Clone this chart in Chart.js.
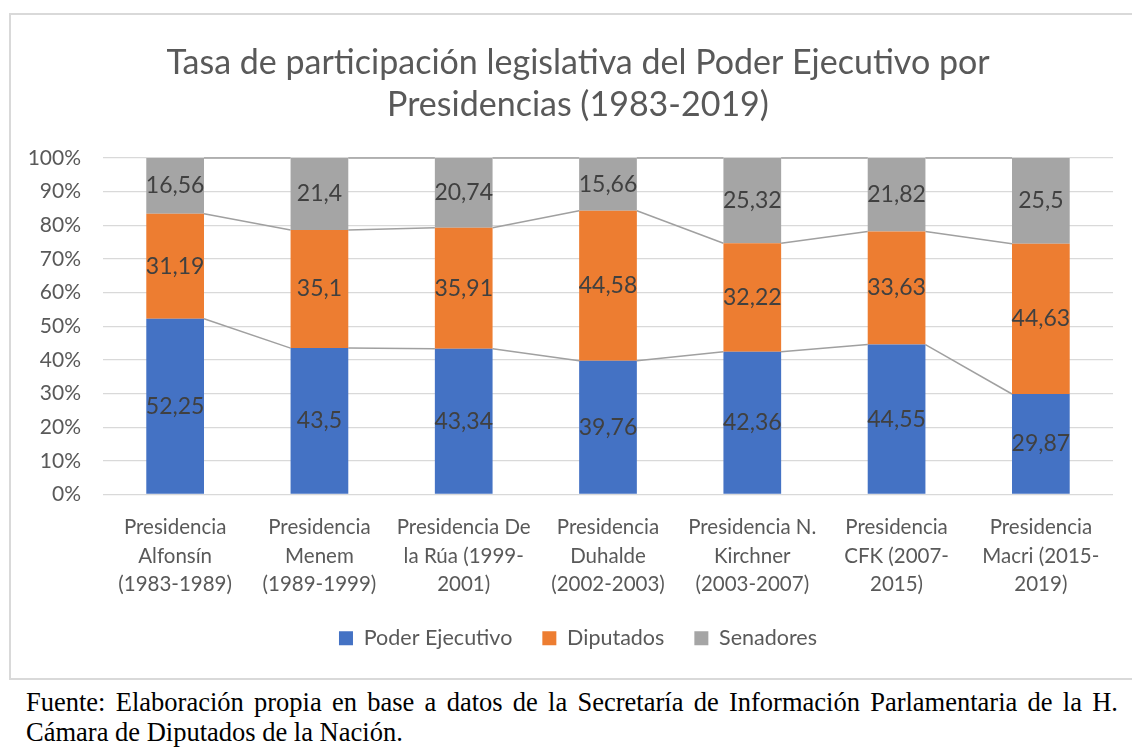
<!DOCTYPE html>
<html>
<head>
<meta charset="utf-8">
<script src="https://cdn.jsdelivr.net/npm/chart.js@4/dist/chart.umd.min.js"></script>
<style>
  body { margin: 0; background: #fff; width: 1132px; height: 747px; overflow: hidden; position: relative; }
  #box { position: absolute; left: 9px; top: 13px; width: 1125px; height: 663px; border: 2px solid #d9d9d9; border-right: none; }
  #footer { position: absolute; left: 26px; top: 687px; width: 1092px; font-family: "Liberation Serif", serif; font-size: 26.5px; line-height: 30px; color: #000; }
  #footer .l1 { white-space: nowrap; text-align: justify; text-align-last: justify; }
</style>
</head>
<body>
<div id="box"><canvas id="chart" width="1123" height="661"></canvas></div>
<div id="footer">
  <div class="l1">Fuente: Elaboración propia en base a datos de la Secretaría de Información Parlamentaria de la H.</div>
  <div>Cámara de Diputados de la Nación.</div>
</div>
<script>
const categories = [
    ['Presidencia', 'Alfonsín', '(1983-1989)'],
    ['Presidencia', 'Menem', '(1989-1999)'],
    ['Presidencia De', 'la Rúa (1999-', '2001)'],
    ['Presidencia', 'Duhalde', '(2002-2003)'],
    ['Presidencia N.', 'Kirchner', '(2003-2007)'],
    ['Presidencia', 'CFK (2007-', '2015)'],
    ['Presidencia', 'Macri (2015-', '2019)']
];
const ejecutivo = [52.25, 43.5, 43.34, 39.76, 42.36, 44.55, 29.87];
const diputados = [31.19, 35.1, 35.91, 44.58, 32.22, 33.63, 44.63];
const senadores = [16.56, 21.4, 20.74, 15.66, 25.32, 21.82, 25.5];
const yTicks = [0, 10, 20, 30, 40, 50, 60, 70, 80, 90, 100];

const totals = ejecutivo.map((v, i) => v + diputados[i] + senadores[i]);
const pct = arr => arr.map((v, i) => v / totals[i] * 100);

const FONT = 'Lato, "Open Sans", sans-serif';

// labels inside each segment + series lines between bars
const stackExtras = {
    id: 'stackExtras',
    beforeDatasetsDraw(chart) {
        const ctx = chart.ctx;
        const metas = chart.data.datasets.map((d, i) => chart.getDatasetMeta(i));
        ctx.save();
        ctx.strokeStyle = '#a0a0a0';
        ctx.lineWidth = 1.5;
        metas.forEach(meta => {
            for (let i = 0; i < meta.data.length - 1; i++) {
                const a = meta.data[i], b = meta.data[i + 1];
                ctx.beginPath();
                ctx.moveTo(a.x + a.width / 2, a.y);
                ctx.lineTo(b.x - b.width / 2, b.y);
                ctx.stroke();
            }
        });
        ctx.restore();
    },
    afterDatasetsDraw(chart) {
        const ctx = chart.ctx;
        ctx.save();
        ctx.font = '23px ' + FONT;
        ctx.fillStyle = '#404040';
        ctx.textAlign = 'center';
        ctx.textBaseline = 'middle';
        chart.data.datasets.forEach((ds, di) => {
            chart.getDatasetMeta(di).data.forEach((el, i) => {
                const txt = String(ds.raw[i]).replace('.', ',');
                ctx.fillText(txt, el.x, (el.y + el.base) / 2);
            });
        });
        ctx.restore();
    }
};

const ctx = document.getElementById('chart').getContext('2d');

// y labels sit left of the narrow axis box, so draw them mirrored with a negative offset
ctx.font = '21px ' + FONT;
const widestY = ctx.measureText('100%').width;

new Chart(ctx, {
    type: 'bar',
    data: {
        labels: categories,
        datasets: [
            { label: 'Poder Ejecutivo', data: pct(ejecutivo), raw: ejecutivo, backgroundColor: '#4472c4' },
            { label: 'Diputados', data: pct(diputados), raw: diputados, backgroundColor: '#ed7d31' },
            { label: 'Senadores', data: pct(senadores), raw: senadores, backgroundColor: '#a5a5a5' }
        ]
    },
    options: {
        responsive: false,
        animation: false,
        events: [],
        layout: { padding: { left: 32, right: 21, top: 0, bottom: 17 } },
        datasets: { bar: { barPercentage: 0.4, categoryPercentage: 1 } },
        scales: {
            x: {
                stacked: true,
                afterFit: s => { s.height = 103; },
                grid: { display: false },
                border: { display: false },
                ticks: {
                    color: '#595959', font: { family: FONT, size: 20.5, lineHeight: 1.39 },
                    maxRotation: 0, autoSkip: false, padding: 11
                }
            },
            y: {
                stacked: true, min: 0, max: 100,
                afterBuildTicks: s => { s.ticks = yTicks.map(v => ({ value: v })); },
                afterFit: s => { s.width = 60; },
                grid: { color: '#d9d9d9', lineWidth: 1.3, drawTicks: false },
                border: { display: false },
                ticks: {
                    color: '#595959', font: { family: FONT, size: 21 },
                    mirror: true, crossAlign: 'far', padding: -(22 + widestY),
                    callback: v => v + '%'
                }
            }
        },
        plugins: {
            title: {
                display: true,
                text: ['Tasa de participación legislativa del Poder Ejecutivo por', 'Presidencias (1983-2019)'],
                color: '#595959',
                font: { family: FONT, size: 34, weight: 'normal', lineHeight: 1.235 },
                padding: { top: 27, bottom: 32 }
            },
            legend: {
                position: 'bottom',
                labels: {
                    color: '#595959', font: { family: FONT, size: 21.5 },
                    boxWidth: 14, boxHeight: 14, padding: 30
                }
            },
            tooltip: { enabled: false }
        }
    },
    plugins: [stackExtras]
});
</script>
</body>
</html>
